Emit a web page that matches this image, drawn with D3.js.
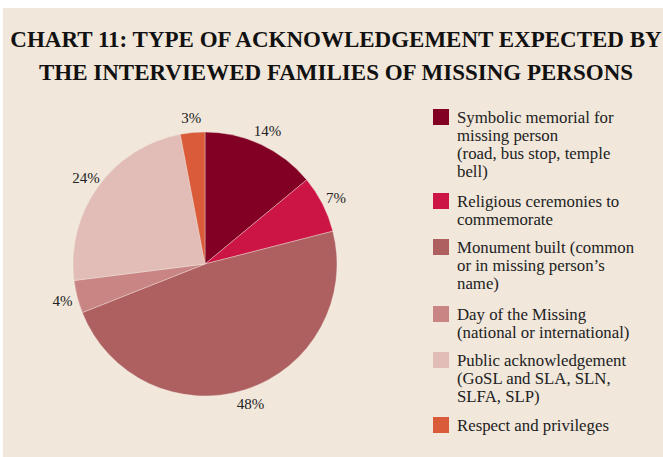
<!DOCTYPE html>
<html>
<head>
<meta charset="utf-8">
<script src="https://cdn.jsdelivr.net/npm/d3@7"></script>
<style>
  body { margin: 0; background: #fff; }
  svg { display: block; font-family: "Liberation Serif", "DejaVu Serif", serif; }
</style>
</head>
<body>
<svg id="chart"></svg>
<script>
// chart data
var titleLines = ["CHART 11: TYPE OF ACKNOWLEDGEMENT EXPECTED BY",
                  "THE INTERVIEWED FAMILIES OF MISSING PERSONS"];
var categories = ["Symbolic memorial", "Religious ceremonies", "Monument built",
                  "Day of the Missing", "Public acknowledgement", "Respect and privileges"];
var values = [14, 7, 48, 4, 24, 3];
var colors = ["#820024", "#cc1445", "#ae5f60", "#c98584", "#e2bdb8", "#d95b39"];
var legendLines = [
    ["Symbolic memorial for", "missing person", "(road, bus stop, temple", "bell)"],
    ["Religious ceremonies to", "commemorate"],
    ["Monument built (common", "or in missing person\u2019s", "name)"],
    ["Day of the Missing", "(national or international)"],
    ["Public acknowledgement", "(GoSL and SLA, SLN,", "SLFA, SLP)"],
    ["Respect and privileges"]
];

var width = 663, height = 457;
var svg = d3.select("#chart").attr("width", width).attr("height", height);

// fond beige
svg.append("rect")
    .attr("x", 3).attr("y", 8)
    .attr("width", width - 3).attr("height", height - 8)
    .attr("fill", "#f1e7db");

// titre
svg.append("g").selectAll("text")
    .data(titleLines)
    .enter()
    .append("text")
    .attr("x", 336)
    .attr("y", function(d, i) { return 47 + i * 33; })
    .attr("text-anchor", "middle")
    .attr("font-weight", "bold")
    .attr("font-size", 23)
    .attr("fill", "#111")
    .text(function(d) { return d; });

var data = categories.map(function(c, i) { return {name: c, value: values[i], color: colors[i]}; });

var cx = 205, cy = 264, radius = 132;
var pie = d3.pie().sort(null).value(function(d) { return d.value; });
var arc = d3.arc().innerRadius(0).outerRadius(radius);
var labelArc = d3.arc().innerRadius(147).outerRadius(147);

var g = svg.append("g").attr("transform", "translate(" + cx + "," + cy + ")");

g.selectAll("path")
    .data(pie(data))
    .enter()
    .append("path")
    .attr("d", arc)
    .attr("fill", function(d) { return d.data.color; })
    .attr("stroke", "#f1e7db")
    .attr("stroke-width", 0.4);

g.selectAll("text")
    .data(pie(data))
    .enter()
    .append("text")
    .attr("transform", function(d) { return "translate(" + labelArc.centroid(d) + ")"; })
    .attr("text-anchor", "middle")
    .attr("dy", "0.35em")
    .attr("font-size", 15)
    .attr("fill", "#222")
    .text(function(d) { return d.data.value + "%"; });

// legende
var legendY = [109, 193, 239, 306, 352, 417];
var legend = svg.append("g").selectAll("g")
    .data(data)
    .enter()
    .append("g")
    .attr("transform", function(d, i) { return "translate(433," + legendY[i] + ")"; });

legend.append("rect")
    .attr("width", 16).attr("height", 16)
    .attr("fill", function(d) { return d.color; });

legend.append("text")
    .attr("x", 24)
    .attr("y", 13.5)
    .attr("font-size", 16.8)
    .attr("fill", "#222")
    .selectAll("tspan")
    .data(function(d, i) { return legendLines[i]; })
    .enter()
    .append("tspan")
    .attr("x", 24)
    .attr("dy", function(d, i) { return i == 0 ? 0 : 18; })
    .text(function(d) { return d; });
</script>
</body>
</html>
